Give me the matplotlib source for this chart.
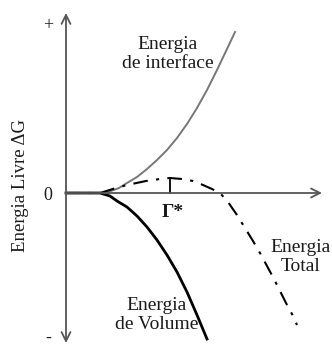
import matplotlib
matplotlib.use("Agg")
import matplotlib.pyplot as plt

# schematic curves: radius r vs free energy dG (arbitrary units)
r_interface = [0, 37, 45, 53, 61, 71, 81, 91, 101, 111, 121, 131, 141, 151, 161, 169]
g_interface = [0, 0, 2, 5, 10, 16, 24, 33, 43, 55, 69, 85, 103, 123, 144, 161]

r_volume = [0, 34, 44, 51, 61, 71, 81, 91, 101, 111, 121, 131, 141]
g_volume = [0, 0, -3, -8, -14, -23, -34, -47, -62, -79, -99, -122, -146]

r_total = [0, 34, 50, 61, 80, 94, 104, 116, 127, 137, 146, 154, 162, 171, 179, 187,
           194, 201, 208, 214, 220, 226, 231]
g_total = [0, 0, 5, 8, 12, 14, 15, 14, 12, 8, 4, 0, -9, -22, -35, -48,
           -60, -73, -86, -98, -110, -121, -132]

r_star = 104
g_star = 15

plt.rcParams['font.family'] = ['Liberation Serif', 'DejaVu Serif']

fig = plt.figure(figsize=(3.32, 3.47), dpi=100)
ax = fig.add_axes([0, 0, 1, 1])
ax.set_xlim(-66, 266)
ax.set_ylim(-154, 193)
ax.axis('off')

axis_col = '#555555'
arrow = dict(arrowstyle='->', color=axis_col, lw=1.3, mutation_scale=16, shrinkA=0, shrinkB=0)
ax.annotate('', xy=(0, 180), xytext=(0, 0), arrowprops=arrow)
ax.annotate('', xy=(0, -150), xytext=(0, 0), arrowprops=arrow)
ax.annotate('', xy=(256, 0), xytext=(0, 0), arrowprops=arrow)

ax.plot(r_interface, g_interface, color='#777777', lw=1.4, solid_joinstyle='round')
ax.plot(r_volume, g_volume, color='black', lw=2.0, solid_joinstyle='round')
ax.plot(r_total, g_total, color='black', lw=1.5, dashes=(7, 4, 1.5, 4))
ax.plot([r_star, r_star], [0, g_star - 2], color='black', lw=1.3)

fs = 14
tc = '#1a1a1a'
ax.text(-18, 167, '+', fontsize=fs - 1, ha='center', va='center', color=tc)
ax.text(-18, -2, '0', fontsize=fs - 1, ha='center', va='center', color=tc)
ax.text(-18, -145, '-', fontsize=fs - 1, ha='center', va='center', color=tc)
ax.text(-45, 8, 'Energia Livre ΔG', fontsize=fs - 0.5, rotation=90, ha='center', va='center', color=tc)

ax.text(102, 139, 'Energia\nde interface', fontsize=fs, ha='center', va='center',
        color=tc, linespacing=1.1)
ax.text(91, -122, 'Energia\nde Volume', fontsize=fs, ha='center', va='center',
        color=tc, linespacing=1.1)
ax.text(235, -64, 'Energia\nTotal', fontsize=fs, ha='center', va='center',
        color=tc, linespacing=1.1)
ax.text(107, -19, 'Γ*', fontsize=fs, ha='center', va='center', color=tc, fontweight='bold')

fig.savefig('out.png', dpi=100)
